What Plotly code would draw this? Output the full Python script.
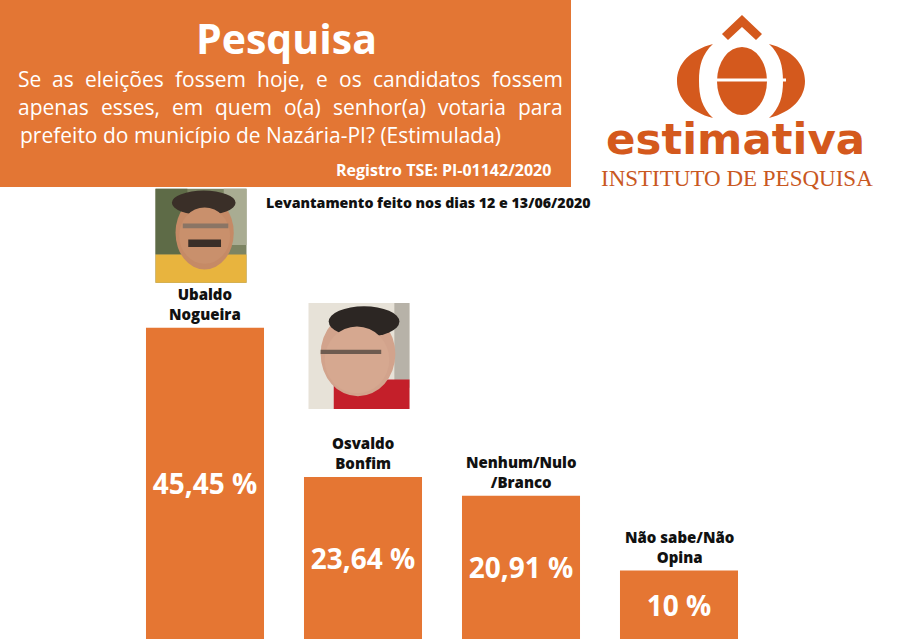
import plotly.graph_objects as go

# ---------------- data ----------------
categories = ["Ubaldo<br>Nogueira", "Osvaldo<br>Bonfim", "Nenhum/Nulo<br>/Branco", "Não sabe/Não<br>Opina"]
values = [45.45, 23.64, 20.91, 10]
value_labels = [(f"{v:g}").replace(".", ",") + " %" for v in values]

title = "Pesquisa"
question_lines = [
    "Se as eleições fossem hoje, e os candidatos fossem",
    "apenas esses, em quem o(a) senhor(a) votaria para",
    "prefeito do município de Nazária-PI? (Estimulada)",
]
registro = "Registro TSE: PI-01142/2020"
levantamento = "Levantamento feito nos dias 12 e 13/06/2020"
brand = "estimativa"
brand_sub = "INSTITUTO DE PESQUISA"

# ---------------- styling ----------------
W_PX, H_PX = 900, 639
ORANGE_BOX = "#E37634"
ORANGE_BAR = "#E57633"
LOGO = "#D4591D"
LOGO_SUB = "#C9581F"
FONT = "Open Sans"


def px(x):
    return x / W_PX


def py(y):
    return 1 - y / H_PX


def path(cmds):
    out = []
    for c, pts in cmds:
        out.append(c + " ".join(f"{px(x):.5f},{py(y):.5f}" for x, y in pts))
    return " ".join(out) + " Z"


fig = go.Figure()
fig.add_trace(go.Bar(
    x=categories, y=values,
    marker=dict(color=ORANGE_BAR, line=dict(width=0)),
    text=value_labels, textposition="inside", insidetextanchor="middle",
    textangle=0,
    textfont=dict(family=FONT, size=28, color="white", weight="bold"),
    hoverinfo="skip",
))

shapes = []
annotations = []

# header box
shapes.append(dict(type="rect", xref="paper", yref="paper", x0=px(0), x1=px(571),
                   y0=py(187), y1=py(0), fillcolor=ORANGE_BOX, line=dict(width=0), layer="below"))

annotations.append(dict(text=title, xref="paper", yref="paper", x=px(286), y=py(38),
                        xanchor="center", yanchor="middle", showarrow=False,
                        font=dict(family=FONT, size=41, color="white", weight="bold")))

# justified question text (per-word placement for the first two lines)
EM = {"S": .549, "e": .561, "a": .556, "s": .477, "l": .253, "i": .253, "ç": .490, "õ": .604,
      "f": .339, "o": .604, "m": .930, "h": .614, "j": .253, ",": .243, "c": .490, "n": .614,
      "d": .613, "t": .353, "q": .613, "u": .614, "(": .295, ")": .295, "r": .408, "v": .501,
      "p": .613}
Q_SIZE = 21
Q_LEFT, Q_RIGHT = 18, 563
line_y = [79, 107, 135]
for li, line in enumerate(question_lines):
    if li < 2:
        words = line.split()
        widths = [sum(EM.get(ch, .55) for ch in w) * Q_SIZE for w in words]
        gap = (Q_RIGHT - Q_LEFT - sum(widths)) / (len(words) - 1)
        xc = Q_LEFT
        for w, wd in zip(words, widths):
            annotations.append(dict(text=w, xref="paper", yref="paper", x=px(xc + wd / 2),
                                    y=py(line_y[li]), xanchor="center", yanchor="middle",
                                    showarrow=False,
                                    font=dict(family=FONT, size=Q_SIZE, color="white")))
            xc += wd + gap
    else:
        annotations.append(dict(text=line, xref="paper", yref="paper", x=px(Q_LEFT),
                                y=py(line_y[li]), xanchor="left", yanchor="middle",
                                showarrow=False,
                                font=dict(family=FONT, size=Q_SIZE, color="white")))

annotations.append(dict(text=registro, xref="paper", yref="paper", x=px(553), y=py(170),
                        xanchor="right", yanchor="middle", showarrow=False,
                        font=dict(family=FONT, size=16, color="white", weight="bold")))

annotations.append(dict(text=levantamento, xref="paper", yref="paper", x=px(428), y=py(203),
                        xanchor="center", yanchor="middle", showarrow=False,
                        font=dict(family=FONT, size=14.2, color="#111111", weight=800)))

# ---------------- logo ----------------
left_cres = [("M", [(713, 44)]),
             ("C", [(690, 50), (677, 64), (677, 81)]),
             ("C", [(677, 98), (690, 112), (713, 118)]),
             ("C", [(702, 108), (699, 96), (699, 81)]),
             ("C", [(699, 66), (702, 54), (713, 44)])]
right_cres = [(c, [(1482 - x, y) for x, y in pts]) for c, pts in left_cres]
for pth in (left_cres, right_cres):
    shapes.append(dict(type="path", xref="paper", yref="paper", path=path(pth),
                       fillcolor=LOGO, line=dict(width=0)))
shapes.append(dict(type="circle", xref="paper", yref="paper", x0=px(717), x1=px(767),
                   y0=py(115), y1=py(47), fillcolor=LOGO, line=dict(width=0)))
shapes.append(dict(type="line", xref="paper", yref="paper", x0=px(715), x1=px(786),
                   y0=py(80), y1=py(80), line=dict(color="white", width=3)))
shapes.append(dict(type="path", xref="paper", yref="paper",
                   path=path([("M", [(722, 34)]), ("L", [(742, 15)]), ("L", [(762, 34)]),
                              ("L", [(756, 40)]), ("L", [(742, 27)]), ("L", [(728, 40)])]),
                   fillcolor=LOGO, line=dict(width=0)))
annotations.append(dict(text=brand, xref="paper", yref="paper", x=px(735), y=py(139),
                        xanchor="center", yanchor="middle", showarrow=False,
                        font=dict(family="DejaVu Sans", size=43.5, color=LOGO, weight="bold")))
annotations.append(dict(text=brand_sub, xref="paper", yref="paper", x=px(737), y=py(178),
                        xanchor="center", yanchor="middle", showarrow=False,
                        font=dict(family="Liberation Serif", size=23, color=LOGO_SUB)))

# ---------------- candidate labels ----------------
for i, (c, v) in enumerate(zip(categories, values)):
    annotations.append(dict(text=c, x=c, y=v, xref="x", yref="y",
                            xanchor="center", yanchor="bottom", yshift=2, showarrow=False,
                            align="center",
                            font=dict(family=FONT, size=15, color="#111111", weight=800)))


# ---------------- photo placeholders (drawn, anchored above bars) ----------------
def photo(idx, val, x0, x1, y0, y1, parts):
    w, h = x1 - x0, y1 - y0
    for kind, fx0, fx1, fy0, fy1, col in parts:
        shapes.append(dict(type=kind, xref="x", yref="y", xsizemode="pixel", ysizemode="pixel",
                           xanchor=idx, yanchor=val,
                           x0=x0 + fx0 * w, x1=x0 + fx1 * w, y0=y0 + fy0 * h, y1=y0 + fy1 * h,
                           fillcolor=col, line=dict(width=0)))


photo(0, values[0], -49.5, 41.5, 45, 139, [
    ("rect", 0, 1, 0, 1, "#7C8462"),
    ("rect", 0, 0.35, 0.3, 1, "#5E6B47"),
    ("rect", 0.75, 1, 0.4, 1, "#A9AC92"),
    ("rect", 0, 1, 0, 0.3, "#E8B43E"),
    ("circle", 0.22, 0.86, 0.14, 0.92, "#C58A66"),
    ("circle", 0.18, 0.88, 0.72, 0.98, "#3A2F28"),
    ("circle", 0.26, 0.82, 0.2, 0.8, "#C9906C"),
    ("rect", 0.36, 0.72, 0.38, 0.46, "#3A2F28"),
    ("rect", 0.3, 0.8, 0.58, 0.63, "#8A7565"),
])
photo(1, values[1], -54.5, 46.5, 68, 174, [
    ("rect", 0, 1, 0, 1, "#E7E2D8"),
    ("rect", 0.85, 1, 0.2, 1, "#B7B2A8"),
    ("rect", 0.25, 1, 0, 0.28, "#C41F2A"),
    ("circle", 0.12, 0.86, 0.12, 0.92, "#D2A38C"),
    ("circle", 0.2, 0.9, 0.68, 0.97, "#2C2623"),
    ("circle", 0.16, 0.8, 0.15, 0.78, "#D6A890"),
    ("rect", 0.12, 0.72, 0.52, 0.56, "#6E5B50"),
])

K = 6.85  # pixels per percentage point
fig.update_layout(
    width=W_PX, height=H_PX,
    margin=dict(l=0, r=0, t=0, b=0),
    paper_bgcolor="white", plot_bgcolor="white",
    showlegend=False,
    bargap=0.253,
    xaxis=dict(domain=[px(126), px(758)], range=[-0.5, 3.5], showticklabels=False,
               showgrid=False, zeroline=False, showline=False, ticks=""),
    yaxis=dict(domain=[0, 1], range=[0, H_PX / K], showticklabels=False, showgrid=False,
               zeroline=False, showline=False, ticks=""),
    shapes=shapes,
    annotations=annotations,
)

fig.write_html("out.html", config={"displayModeBar": False},
               post_script="document.body.style.margin='0px';document.body.style.padding='0px';")
